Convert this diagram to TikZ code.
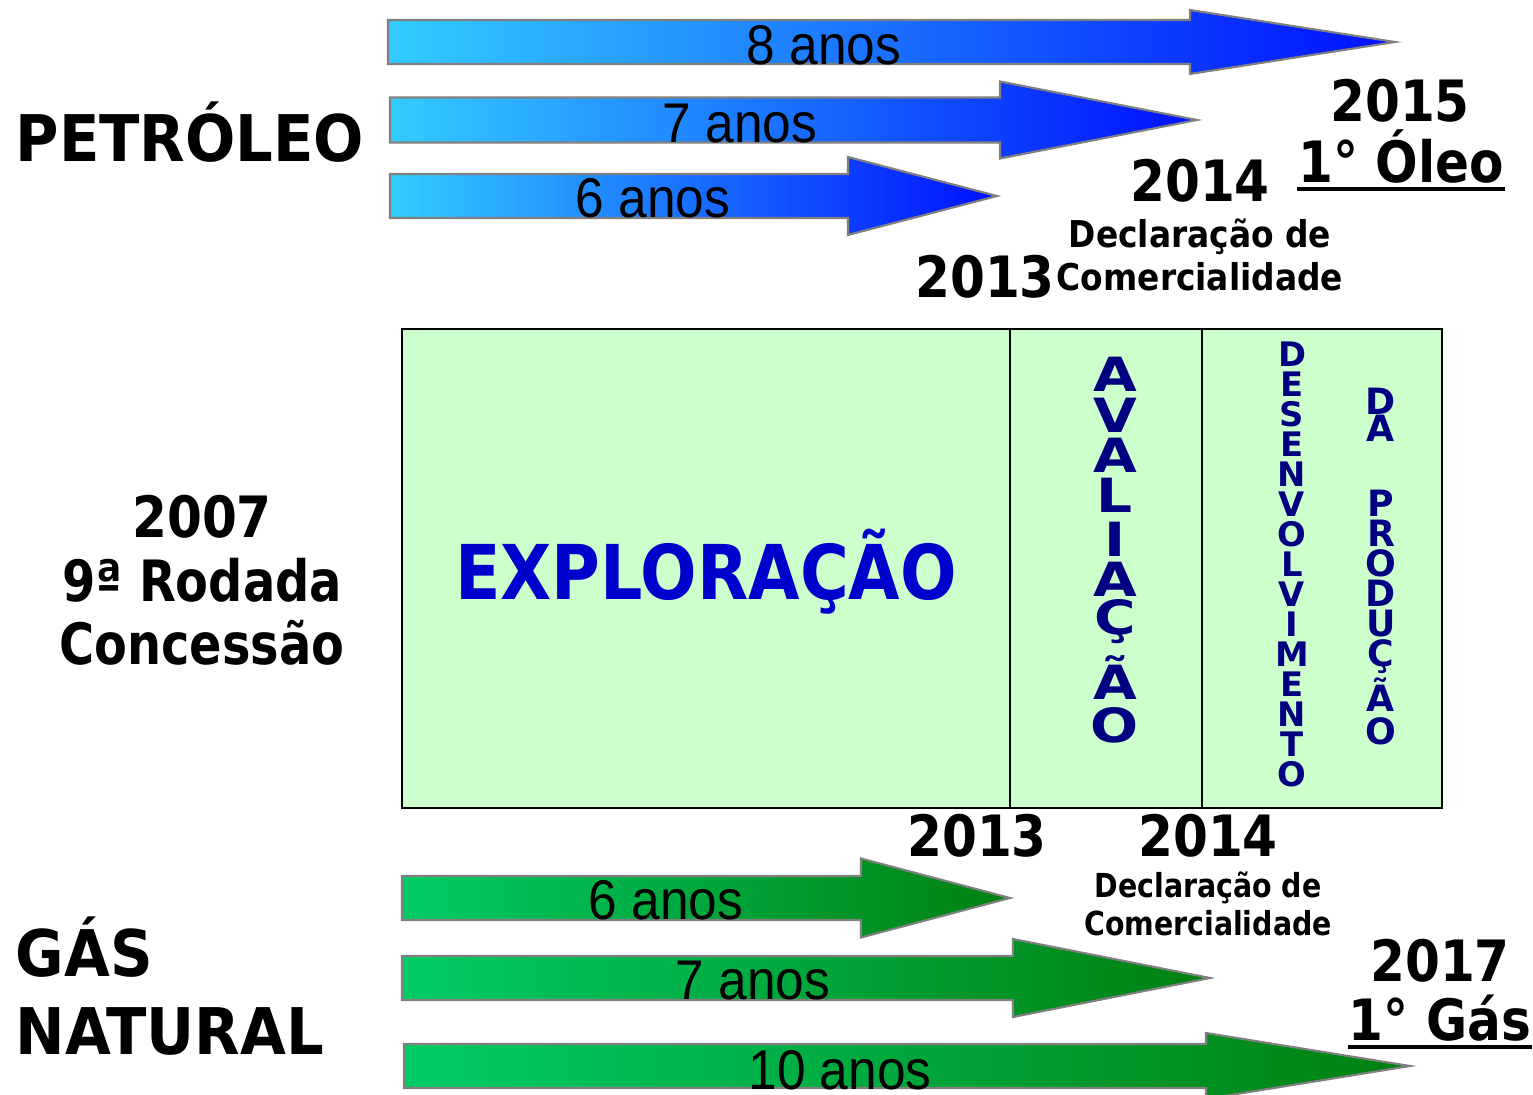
\documentclass[tikz,border=0pt]{standalone}
\usepackage{fontspec}
\setmainfont{Liberation Sans}
\newfontfamily\anosfont[FakeStretch=0.92]{Liberation Sans}
\newfontfamily\hdfont[FakeStretch=0.88]{DejaVu Sans}
\newfontfamily\sdfont[FakeStretch=0.92]{DejaVu Sans}
\newfontfamily\rdfont[FakeStretch=0.84]{DejaVu Sans}
\newfontfamily\lbfont[FakeStretch=0.89]{DejaVu Sans}
\newfontfamily\lsfont[FakeStretch=0.86]{DejaVu Sans}
\newfontfamily\vtfont[FakeStretch=1.2]{DejaVu Sans}
\newfontfamily\vsfont{DejaVu Sans}
\usetikzlibrary{calc}
\definecolor{oil-light}{RGB}{51,204,255}
\definecolor{oil-dark}{RGB}{0,16,255}
\definecolor{gas-light}{RGB}{0,204,102}
\definecolor{gas-dark}{RGB}{0,128,16}
\definecolor{phase-green}{RGB}{204,255,204}
\definecolor{phase-blue}{RGB}{0,0,204}
\definecolor{phase-navy}{RGB}{0,0,128}
\definecolor{arrow-edge}{RGB}{128,128,128}

\tikzset{
  arrowbody/.style={draw=arrow-edge, line width=0.6pt},
  anos/.style={anchor=base, inner sep=0pt, font={\anosfont\fontsize{15.9}{18}\selectfont}},
  side/.style={anchor=base west, inner sep=0pt, font={\sdfont\bfseries\fontsize{18.3}{22}\selectfont}},
  year/.style={anchor=base, inner sep=0pt, font={\hdfont\bfseries\fontsize{16.2}{20}\selectfont}},
  round/.style={anchor=base, inner sep=0pt, font={\rdfont\bfseries\fontsize{16.2}{20}\selectfont}},
  decl/.style={anchor=base, inner sep=0pt, font={\lbfont\bfseries\fontsize{10.5}{12}\selectfont}},
  declsm/.style={anchor=base, inner sep=0pt, font={\lsfont\bfseries\fontsize{9.4}{11}\selectfont}},
  vbig/.style={anchor=base, inner sep=0pt, text=phase-navy, font={\vtfont\bfseries\fontsize{13.4}{16}\selectfont}},
  vsmall/.style={anchor=base, inner sep=0pt, text=phase-navy, font={\vsfont\bfseries\fontsize{9.6}{12}\selectfont}},
  vmid/.style={anchor=base, inner sep=0pt, text=phase-navy, font={\vsfont\bfseries\fontsize{10.3}{12}\selectfont}},
}

\begin{document}
\begin{tikzpicture}[x=0.01cm, y=-0.01cm]
\useasboundingbox (0,0) rectangle (1533,1095);

% arrows: start, head start, tip, centre, half body, half head, colours, label
\foreach \xa/\xh/\xt/\yc/\hb/\hh/\lc/\rc/\lx/\ly/\lab [count=\i] in {
  388/1190/1395/42/22/32/oil-light/oil-dark/824/65/8 anos,
  390/1000/1197/120/22.5/38.5/oil-light/oil-dark/740/143/7 anos,
  390/848/997/196/22/39/oil-light/oil-dark/653/218/6 anos,
  402/861/1010/898/22/39.5/gas-light/gas-dark/666/920/6 anos,
  402/1013/1210/978/22/39/gas-light/gas-dark/753/1000/7 anos,
  404/1206/1410/1066/22/33/gas-light/gas-dark/840/1090/10 anos}
{
  \draw[arrowbody, left color=\lc, right color=\rc]
    (\xa,\yc-\hb) -- (\xh,\yc-\hb) -- (\xh,\yc-\hh) -- (\xt,\yc)
    -- (\xh,\yc+\hh) -- (\xh,\yc+\hb) -- (\xa,\yc+\hb) -- cycle;
  \node[anos] (anos\i) at (\lx,\ly) {\lab};
}

% phases
\filldraw[fill=phase-green, draw=black, line width=0.6pt] (402,329) rectangle (1442,808);
\draw[line width=0.6pt] (1010,329) -- (1010,808);
\draw[line width=0.6pt] (1202,329) -- (1202,808);

\node[anchor=base, inner sep=0pt, text=phase-blue, font={\hdfont\bfseries\fontsize{21.5}{24}\selectfont}] (explor) at (706,600) {EXPLORAÇÃO};

\foreach \ch/\yb [count=\i] in {A/392,V/433,A/473,L/513,I/557,A/597,Ç/635,Ã/700,O/743}
  \node[vbig] (aval\i) at (1115,\yb) {\ch};
\foreach \ch [count=\i] in {D,E,S,E,N,V,O,L,V,I,M,E,N,T,O}
  \node[vsmall] (desen\i) at (1292,{367+30*(\i-1)}) {\ch};
\foreach \ch/\yb [count=\i] in {D/415,A/442,P/517,R/547,O/577,D/607,U/637,Ç/667,Ã/712,O/745}
  \node[vmid] (prod\i) at (1381,\yb) {\ch};

% oil side
\node[side] (petroleo) at (15,162) {PETRÓLEO};
\node[year] (oil15) at (1400,122) {2015};
\node[year] (oleo) at (1401,183) {1° Óleo};
\draw[line width=1.4pt] ($(oleo.base west)+(0,6)$) -- ($(oleo.base east)+(0,6)$);
\node[year] (oil14) at (1200,202) {2014};
\node[decl] (oildecl) at (1200,248) {Declaração de};
\node[decl] (oilcom) at (1200,291) {Comercialidade};
\node[year] (oil13) at (985,298) {2013};

% round
\node[year] (rod07) at (202,538) {2007};
\node[round] (rod9) at (202,602) {9ª Rodada};
\node[round] (rodcon) at (202,665) {Concessão};

% gas side
\node[year] (gas13) at (977,857) {2013};
\node[year] (gas14) at (1208,857) {2014};
\node[declsm] (gasdecl) at (1208,898) {Declaração de};
\node[declsm] (gascom) at (1208,936) {Comercialidade};
\node[side] (gas) at (15,977) {GÁS};
\node[side] (natural) at (15,1055) {NATURAL};
\node[year] (gas17) at (1440,982) {2017};
\node[year] (gasfirst) at (1440,1041) {1° Gás};
\draw[line width=1.4pt] ($(gasfirst.base west)+(0,6)$) -- ($(gasfirst.base east)+(0,6)$);
\end{tikzpicture}
\end{document}
